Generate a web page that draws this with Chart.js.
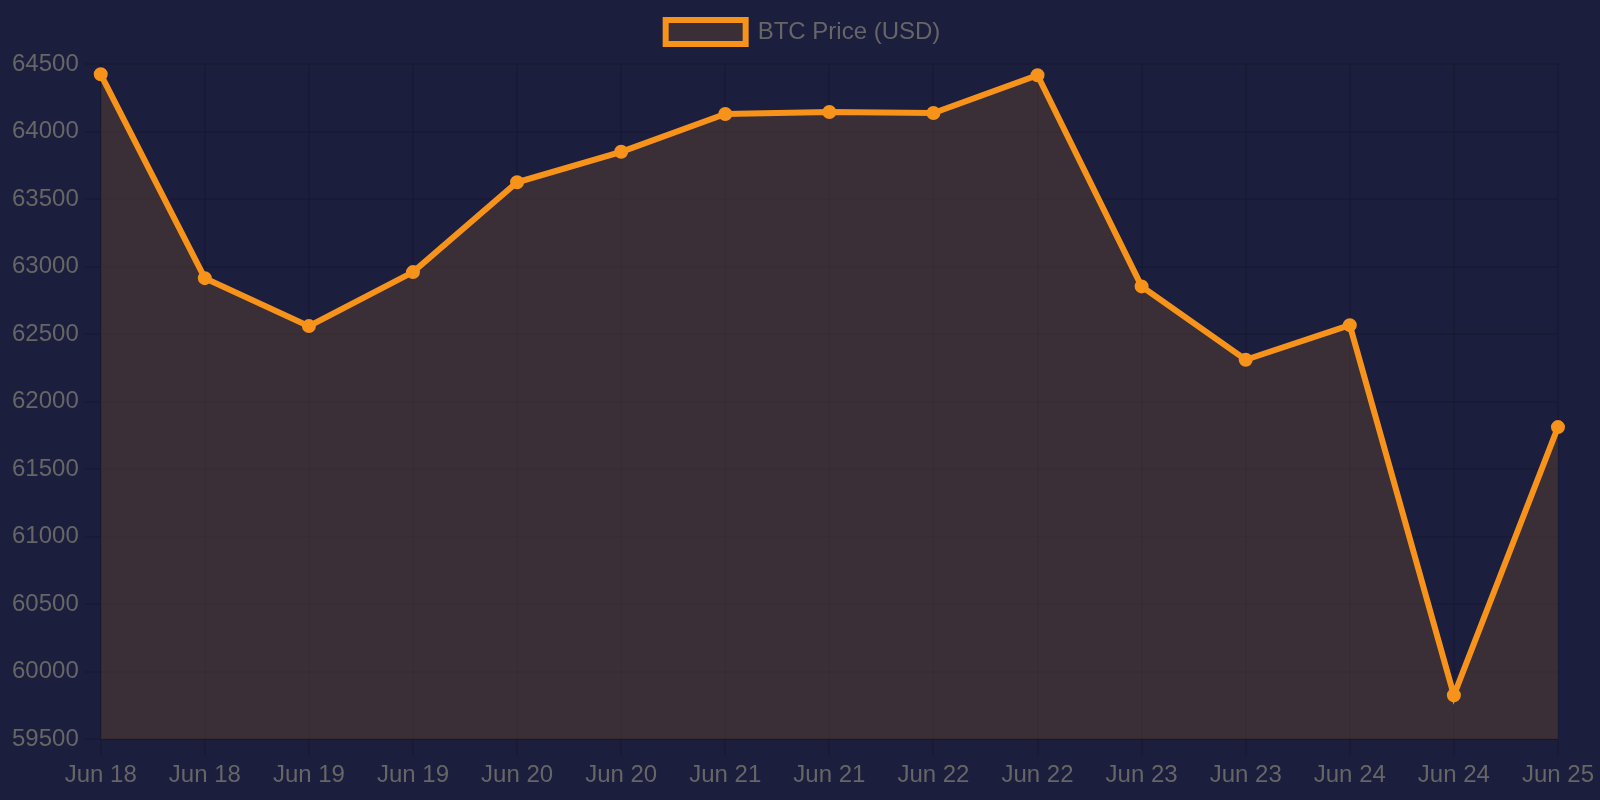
<!DOCTYPE html>
<html>
<head>
<meta charset="utf-8">
<script src="https://cdn.jsdelivr.net/npm/chart.js@4"></script>
<style>
html,body{margin:0;padding:0;background:#1b1e3d;}
#wrap{width:1600px;height:800px;}
</style>
</head>
<body>
<div id="wrap"><canvas id="c" width="1600" height="800"></canvas></div>
<script>
const labels = ["Jun 18","Jun 18","Jun 19","Jun 19","Jun 20","Jun 20","Jun 21","Jun 21","Jun 22","Jun 22","Jun 23","Jun 23","Jun 24","Jun 24","Jun 25"];
const btcPrice = [64424,62914,62559,62959,63624,63850,64130,64145,64137,64417,62853,62310,62566,59825,61811];
const seriesName = "BTC Price (USD)";
const yMin = 59500, yMax = 64500, yStep = 500;

Chart.defaults.font.family = "'Liberation Sans', Arial, sans-serif";
Chart.defaults.font.size = 24;
Chart.defaults.color = '#666';

const legendMargin = {
  id: 'legendMargin',
  beforeInit(chart) {
    const fit = chart.legend.fit;
    chart.legend.fit = function () {
      fit.bind(chart.legend)();
      this.height += 10;
    };
  }
};

new Chart(document.getElementById('c'), {
  type: 'line',
  data: {
    labels: labels,
    datasets: [{
      label: seriesName,
      data: btcPrice,
      borderColor: '#f7931a',
      backgroundColor: 'rgba(247,147,26,0.15)',
      borderWidth: 6,
      pointRadius: 6,
      pointBorderWidth: 2,
      pointBackgroundColor: '#f7931a',
      pointBorderColor: '#f7931a',
      fill: true,
      tension: 0
    }]
  },
  plugins: [legendMargin],
  options: {
    responsive: false,
    animation: false,
    devicePixelRatio: 1,
    layout: { padding: { bottom: 4, left: 6 } },
    plugins: {
      legend: {
        labels: { boxWidth: 80, boxHeight: 24, padding: 20, color: '#666' }
      },
      tooltip: { enabled: false }
    },
    scales: {
      x: {
        grid: { color: 'rgba(0,0,0,0.1)', lineWidth: 2, tickLength: 16 },
        border: { color: 'rgba(0,0,0,0.1)', width: 2 },
        ticks: { padding: 6, maxRotation: 0, autoSkip: false }
      },
      y: {
        min: yMin, max: yMax,
        grid: { color: 'rgba(0,0,0,0.1)', lineWidth: 2, tickLength: 16 },
        border: { color: 'rgba(0,0,0,0.1)', width: 2 },
        ticks: { stepSize: yStep, padding: 6, callback: (v) => String(v) }
      }
    }
  }
});
</script>
</body>
</html>
